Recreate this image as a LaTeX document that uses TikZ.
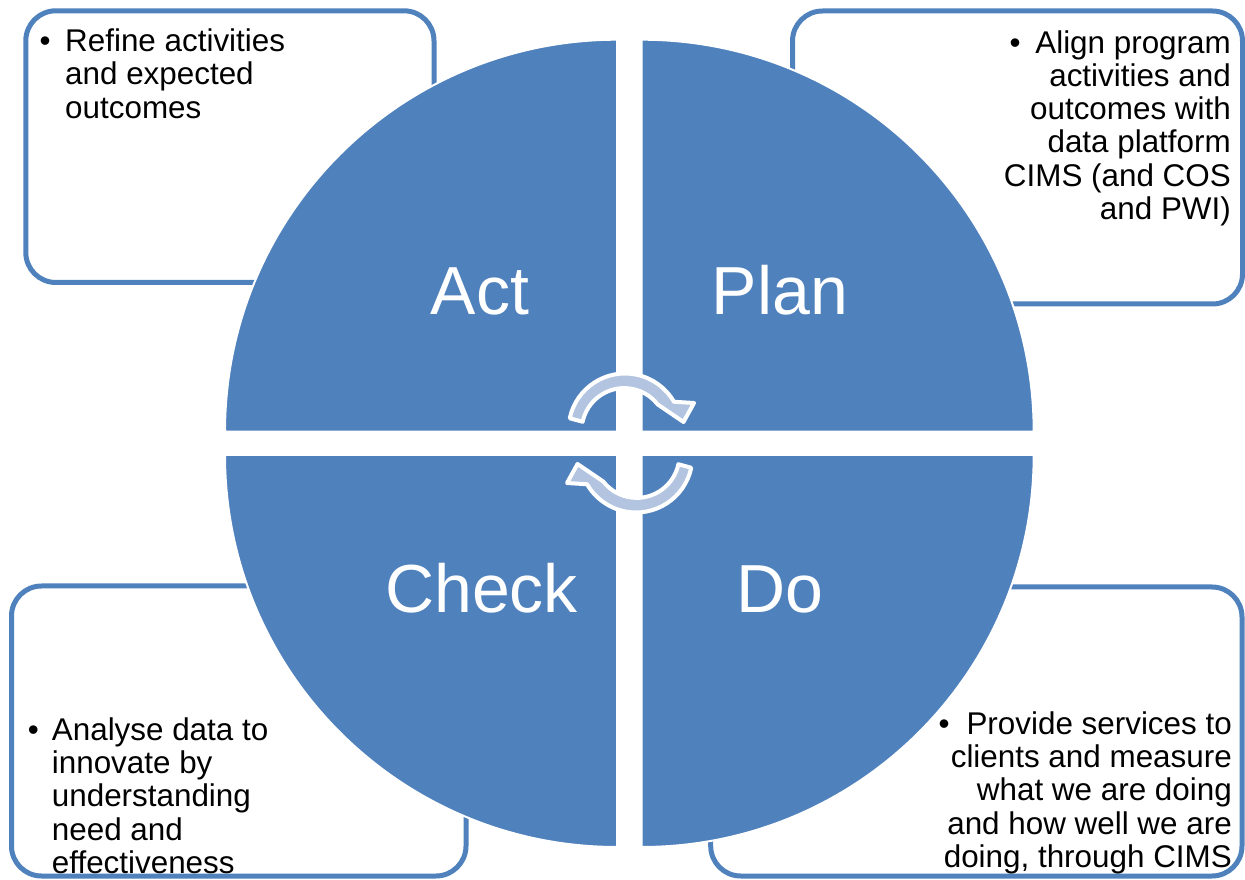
\documentclass[tikz,border=0pt]{standalone}
\usepackage{fontspec}
\setmainfont{Liberation Sans}
\definecolor{pdcablue}{RGB}{79,129,189}
\definecolor{arrowfill}{RGB}{178,196,224}
\tikzset{
  quad/.style={fill=pdcablue, draw=white, line width=2pt},
  infobox/.style={draw=pdcablue, line width=5pt, rounded corners=30pt, fill=white},
  bodytext/.style={font=\fontsize{31.4}{33.3}\selectfont, inner sep=0pt, text=black},
  biglabel/.style={font=\fontsize{68}{80}\selectfont, text=white, inner sep=0pt, anchor=base},
  cyclearrow/.style={fill=arrowfill, draw=white, line width=4pt, line join=round},
}
\begin{document}
\begin{tikzpicture}[x=1pt,y=1pt]
\useasboundingbox (0,0) rectangle (1245,879);

% info boxes
\draw[infobox] (25.8,596.5) rectangle (434,868.2);
\draw[infobox] (792.5,575) rectangle (1242.5,868);
\draw[infobox] (11.5,3) rectangle (466,293);
\draw[infobox] (710.7,3) rectangle (1242,292);

% quadrants
\path[quad] (617,447.3) -- ++(-392,0) arc[start angle=180, end angle=90, radius=392] -- cycle;
\path[quad] (641.7,447.3) -- ++(0,392) arc[start angle=90, end angle=0, radius=392] -- cycle;
\path[quad] (641.7,424) -- ++(392,0) arc[start angle=0, end angle=-90, radius=392] -- cycle;
\path[quad] (617,424) -- ++(0,-392) arc[start angle=270, end angle=180, radius=392] -- cycle;

% quadrant labels
\node[biglabel] (act) at (480,564) {Act};
\node[biglabel] (plan) at (780,564) {Plan};
\node[biglabel] (check) at (481.5,266) {Check};
\node[biglabel] (do) at (780,266) {Do};

% cycle arrows
\begin{scope}[shift={(625,449)}]
  \path[cyclearrow] (168:56.5) arc[start angle=168, end angle=30, radius=56.5]
    -- (69,27) -- (58.5,8) -- (38:41.5) arc[start angle=38, end angle=168, radius=42.5] -- cycle;
\end{scope}
\begin{scope}[rotate around={180:(630.5,436)}]
  \begin{scope}[shift={(625,449)}]
    \path[cyclearrow] (168:56.5) arc[start angle=168, end angle=30, radius=56.5]
      -- (69,27) -- (58.5,8) -- (38:41.5) arc[start angle=38, end angle=168, radius=42.5] -- cycle;
  \end{scope}
\end{scope}

% top-left text
\node[bodytext, anchor=base] (tlb) at (45,827.3) {\textbullet};
\node[bodytext, anchor=base west] (tl1) at (65,827.3) {Refine activities};
\node[bodytext, anchor=base west] (tl2) at (65,794) {and expected};
\node[bodytext, anchor=base west] (tl3) at (65,760.7) {outcomes};

% top-right text
\node[bodytext, anchor=base] (trb) at (1015,825.7) {\textbullet};
\node[bodytext, anchor=base east] (tr1) at (1231,825.7) {Align program};
\node[bodytext, anchor=base east] (tr2) at (1231,792.5) {activities and};
\node[bodytext, anchor=base east] (tr3) at (1231,759.2) {outcomes with};
\node[bodytext, anchor=base east] (tr4) at (1231,726) {data platform};
\node[bodytext, anchor=base east] (tr5) at (1231,692.7) {CIMS (and COS};
\node[bodytext, anchor=base east] (tr6) at (1231,659.5) {and PWI)};

% bottom-left text
\node[bodytext, anchor=base] (blb) at (33.3,139) {\textbullet};
\node[bodytext, anchor=base west] (bl1) at (51.7,139) {Analyse data to};
\node[bodytext, anchor=base west] (bl2) at (51.7,105.7) {innovate by};
\node[bodytext, anchor=base west] (bl3) at (51.7,72.3) {understanding};
\node[bodytext, anchor=base west] (bl4) at (51.7,39) {need and};
\node[bodytext, anchor=base west] (bl5) at (51.7,5.7) {effectiveness};

% bottom-right text
\node[bodytext, anchor=base] (brb) at (944,145) {\textbullet};
\node[bodytext, anchor=base east] (br1) at (1232,145) {Provide services to};
\node[bodytext, anchor=base east] (br2) at (1232,111.7) {clients and measure};
\node[bodytext, anchor=base east] (br3) at (1232,78.4) {what we are doing};
\node[bodytext, anchor=base east] (br4) at (1232,45) {and how well we are};
\node[bodytext, anchor=base east] (br5) at (1232,11.7) {doing, through CIMS};
\end{tikzpicture}
\end{document}
